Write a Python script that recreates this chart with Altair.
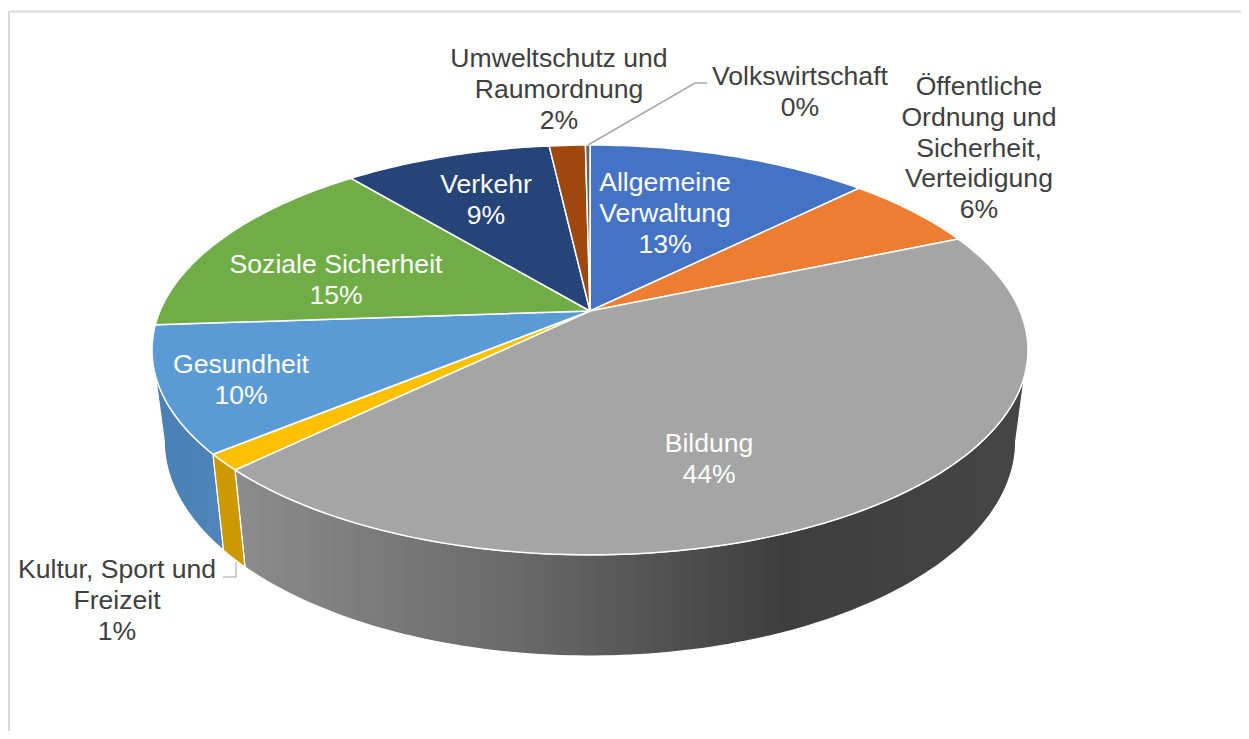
import math
import altair as alt
import pandas as pd

# ---- data ----
categories = ["Allgemeine\nVerwaltung", "Öffentliche\nOrdnung und\nSicherheit,\nVerteidigung",
              "Bildung", "Kultur, Sport und\nFreizeit", "Gesundheit", "Soziale Sicherheit",
              "Verkehr", "Umweltschutz und\nRaumordnung", "Volkswirtschaft"]
shares = [12.55, 6.05, 44.1, 1.3, 9.9, 15.1, 9.2, 1.6, 0.2]
top_colors = ["#4472C4", "#ED7D31", "#A5A5A5", "#FFC000", "#5B9BD5", "#70AD47", "#264478", "#9E480E", "#636363"]
text_colors = ["#FFFFFF", "#404040", "#FFFFFF", "#404040", "#FFFFFF", "#FFFFFF", "#FFFFFF", "#404040", "#404040"]

# ---- layout (page pixels); label_y is the middle of each label's first line ----
label_x = [665, 979, 709, 117, 241, 336, 486, 559, 800]
label_y = [183, 87, 444, 570, 365, 265, 185, 59, 77]
APEX_X, APEX_Y = 590, 311
SX, SY, K = 430, 197.5, 0.19
ELL_CY = 350
RIM_A, RIM_B, RIM_CY = 0.972, 1.05, 441
XMIN, XMAX, YMIN, YMAX = 8, 1241, 8, 731
FONT = "Liberation Sans"
FS, LH = 26.6, 30.8


def top_pt(deg):
    t = math.radians(deg)
    u, v = math.sin(t), math.cos(t)
    d = 1 + K * v
    return APEX_X + SX * u / d, APEX_Y - SY * v / d


def rim_pt(deg):
    x, y = top_pt(deg)
    return APEX_X + (x - APEX_X) * RIM_A, RIM_CY + (y - ELL_CY) * RIM_B


def frange(a, b, step=1.0):
    n = max(2, int(abs(b - a) / step) + 1)
    return [a + (b - a) * i / (n - 1) for i in range(n)]


X = alt.X("x:Q", scale=alt.Scale(domain=[XMIN, XMAX], nice=False, zero=False), axis=None)
Y = alt.Y("y:Q", scale=alt.Scale(domain=[YMAX, YMIN], nice=False, zero=False), axis=None)


def poly(points, fill, stroke="#FFFFFF", sw=1.5):
    pts = list(points) + [points[0]]
    df = pd.DataFrame({"x": [p[0] for p in pts], "y": [p[1] for p in pts], "i": range(len(pts))})
    return alt.Chart(df).mark_line(fill=fill, stroke=stroke, strokeWidth=sw, strokeJoin="round", clip=False).encode(
        x=X, y=Y, order=alt.Order("i:Q"))


def polyline(points, color, sw):
    df = pd.DataFrame({"x": [p[0] for p in points], "y": [p[1] for p in points], "i": range(len(points))})
    return alt.Chart(df).mark_line(stroke=color, strokeWidth=sw).encode(x=X, y=Y, order=alt.Order("i:Q"))


# slice boundaries in degrees clockwise from 12 o'clock
edges = [0.0]
for s in shares:
    edges.append(edges[-1] + s * 3.6)


def wall(a, b, fill):
    ang = frange(a, b)
    return poly([top_pt(t) for t in ang] + [rim_pt(t) for t in reversed(ang)], fill, sw=1.2)


grad_bild = alt.Gradient(gradient="linear", x1=0, x2=1, y1=0, y2=0, stops=[
    alt.GradientStop(offset=0, color="#8C8C8C"),
    alt.GradientStop(offset=0.35, color="#6A6A6A"),
    alt.GradientStop(offset=0.69, color="#3E3E3E"),
    alt.GradientStop(offset=1, color="#454545")])
grad_ges = alt.Gradient(gradient="linear", x1=0, x2=1, y1=0, y2=0, stops=[
    alt.GradientStop(offset=0, color="#4A7FB3"),
    alt.GradientStop(offset=1, color="#5085BA")])

walls = [
    wall(101.0, edges[3], grad_bild),
    wall(edges[4], 259.0, grad_ges),
    wall(edges[3], edges[4], "#CC9A00"),
]

tops = []
for i, c in enumerate(top_colors):
    ang = frange(edges[i], edges[i + 1])
    tops.append(poly([(APEX_X, APEX_Y)] + [top_pt(t) for t in ang], c))

leaders = [
    polyline([(588, 145), (695, 83), (707, 83)], "#A6A6A6", 1.5),
    polyline([(236, 562), (236, 577), (223, 577)], "#BFBFBF", 1.5),
]

frame = [
    polyline([(9, 11.5), (XMAX, 11.5)], "#D9D9D9", 2),
    polyline([(9, 11.5), (9, YMAX)], "#D9D9D9", 2),
]

labels = pd.DataFrame({
    "label": [f"{c}\n{int(s + 0.5)}%" for c, s in zip(categories, shares)],
    "x": label_x, "y": label_y, "c": text_colors})
text = alt.Chart(labels).mark_text(
    font=FONT, fontSize=FS, lineHeight=LH, lineBreak="\n", align="center", baseline="middle"
).encode(x=X, y=Y, text="label:N", color=alt.Color("c:N", scale=None))

chart = alt.layer(*frame, *walls, *tops, *leaders, text).properties(
    width=XMAX - XMIN, height=YMAX - YMIN, padding=0,
    autosize=alt.AutoSizeParams(type="none"),
    background="#FFFFFF",
).configure_view(stroke=None)

chart.save("out.html", embed_options={"renderer": "svg", "actions": False})
